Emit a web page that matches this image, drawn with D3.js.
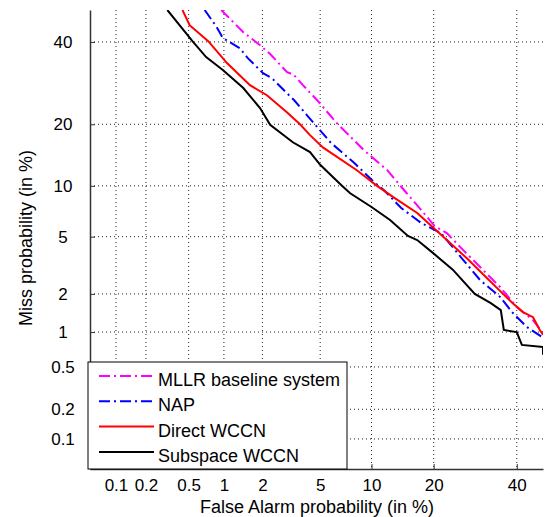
<!DOCTYPE html>
<html>
<head>
<meta charset="utf-8">
<script src="https://cdn.jsdelivr.net/npm/d3@7"></script>
<style>
  body { margin: 0; background: #fff; }
  text { font-family: "Liberation Sans", Arial, sans-serif; fill: #000; }
</style>
</head>
<body>
<svg id="chart" width="548" height="517"></svg>
<script>
// DET curves, values in % : [false alarm, miss]
const mllr = [[0.95,49],[1.43,42.7],[1.92,39.1],[2.28,36.7],[3.0,32.0],[3.36,31.2],[3.86,28.7],[4.77,25.2],[6.35,20.2],[9.1,15.2],[12.1,12.1],[15.1,9.1],[17.6,7.3],[20.2,5.83],[22.7,5.27],[26.3,4.1],[30.4,3.13],[35.5,2.25],[40,1.59],[44.5,1.25],[47.3,0.98]];
const nap = [[0.69,49],[0.87,44.2],[0.98,41.1],[1.34,38.3],[1.55,35.6],[2.02,31.7],[2.35,30.4],[3.0,26.8],[3.36,25.2],[4.1,21.9],[4.56,20.2],[5.83,16.5],[8.0,13.2],[10.3,10.5],[11.6,9.5],[14.2,7.5],[17.6,6.1],[21.5,5.27],[22.7,4.76],[25.8,3.67],[30.4,2.53],[35.5,1.9],[38.9,1.43],[42.8,1.1],[47,0.91]];
const directWccn = [[0.44,49],[0.51,44.7],[0.74,40.2],[1.06,34.3],[1.61,28.7],[2.16,26.3],[3.0,22.5],[3.69,20],[4.3,17.9],[5.2,15.7],[8.3,12.1],[10.7,10],[13.2,8.55],[16.9,7.0],[20,5.67],[27.2,3.6],[32.1,2.62],[36.3,2.0],[38.9,1.7],[41.7,1.45],[44.5,1.32],[46.4,1.04],[47.3,0.95]];
const subspaceWccn = [[0.32,49],[0.54,40.2],[0.71,35.9],[0.98,32.5],[1.43,28],[1.92,23.4],[2.28,19.9],[3.3,16.6],[4.3,14.9],[5.0,12.9],[6.8,10],[7.6,9.1],[10,7.6],[12.5,6.35],[15.3,5.05],[16.9,4.76],[19.9,3.9],[24,3.0],[29.1,2.0],[33.1,1.7],[35.7,1.5],[36.5,1.04],[40,1.0],[41.4,0.78],[47.3,0.75],[47.3,0.64]];

const xTicks = [0.1, 0.2, 0.5, 1, 2, 5, 10, 20, 40];
const yTicks = [0.1, 0.2, 0.5, 1, 2, 5, 10, 20, 40];
const xLim = [0.053, 47.3];
const yLim = [0.0475, 49];

const series = [
  { name: 'MLLR baseline system', data: mllr, color: '#ff00ff', dash: '11,4,2,4' },
  { name: 'NAP', data: nap, color: '#0000ff', dash: '11,4,2,4' },
  { name: 'Direct WCCN', data: directWccn, color: '#ff0000', dash: null },
  { name: 'Subspace WCCN', data: subspaceWccn, color: '#000000', dash: null }
];

// inverse normal cdf (Acklam)
function probit(p) {
  const a = [-39.69683028665376, 220.9460984245205, -275.9285104469687, 138.357751867269, -30.66479806614716, 2.506628274631];
  const b = [-54.47609879822406, 161.5858368580409, -155.6989798598866, 66.80131188771972, -13.28068155288572];
  const c = [-0.007784894002430293, -0.3223964580411365, -2.400758277161838, -2.549732539343734, 4.374664141464968, 2.938163982698783];
  const d = [0.007784695709041462, 0.3224671290700398, 2.445134137142996, 3.754408661907416];
  const pl = 0.02425;
  if (p < pl) {
    const q = Math.sqrt(-2 * Math.log(p));
    return (((((c[0]*q+c[1])*q+c[2])*q+c[3])*q+c[4])*q+c[5]) / ((((d[0]*q+d[1])*q+d[2])*q+d[3])*q+1);
  }
  if (p > 1 - pl) return -probit(1 - p);
  const q = p - 0.5, r = q * q;
  return (((((a[0]*r+a[1])*r+a[2])*r+a[3])*r+a[4])*r+a[5])*q / (((((b[0]*r+b[1])*r+b[2])*r+b[3])*r+b[4])*r+1);
}
const pz = v => probit(v / 100);

const box = { left: 90, right: 543, top: 10, bottom: 469 };
const svg = d3.select('#chart');

const x = d3.scaleLinear().domain(xLim.map(pz)).range([box.left, box.right]);
const y = d3.scaleLinear().domain(yLim.map(pz)).range([box.bottom, box.top]);

// dotted grid
svg.append('g')
  .selectAll('line')
  .data(xTicks)
  .join('line')
  .attr('x1', d => x(pz(d))).attr('x2', d => x(pz(d)))
  .attr('y1', box.top).attr('y2', box.bottom)
  .attr('stroke', '#222').attr('stroke-width', 1).attr('stroke-dasharray', '1,3');
svg.append('g')
  .selectAll('line')
  .data(yTicks)
  .join('line')
  .attr('y1', d => y(pz(d))).attr('y2', d => y(pz(d)))
  .attr('x1', box.left).attr('x2', box.right)
  .attr('stroke', '#222').attr('stroke-width', 1).attr('stroke-dasharray', '1,3');

svg.append('clipPath').attr('id', 'clip')
  .append('rect').attr('x', box.left).attr('y', box.top)
  .attr('width', box.right - box.left).attr('height', box.bottom - box.top);

const line = d3.line()
  .x(d => x(pz(d[0])))
  .y(d => y(pz(d[1])));

svg.append('g').attr('clip-path', 'url(#clip)')
  .selectAll('path')
  .data(series)
  .join('path')
  .attr('d', d => line(d.data))
  .attr('fill', 'none')
  .attr('stroke', d => d.color)
  .attr('stroke-width', 2)
  .attr('stroke-dasharray', d => d.dash);

// axes
const xAxis = d3.axisBottom(x).tickValues(xTicks.map(pz)).tickFormat((d, i) => xTicks[i]).tickSizeInner(-5).tickSizeOuter(0).tickPadding(10);
const yAxis = d3.axisLeft(y).tickValues(yTicks.map(pz)).tickFormat((d, i) => yTicks[i]).tickSizeInner(-5).tickSizeOuter(0);

const gx = svg.append('g').attr('transform', `translate(0,${box.bottom})`).call(xAxis);
const gy = svg.append('g').attr('transform', `translate(${box.left},0)`).call(yAxis);
[gx, gy].forEach(g => {
  g.select('.domain').attr('stroke', '#333').attr('stroke-width', 1.5);
  g.selectAll('.tick line').attr('stroke', '#333');
  g.selectAll('.tick text').attr('font-size', 17).attr('font-family', '"Liberation Sans", Arial, sans-serif').attr('fill', '#000');
});
gy.selectAll('.tick text').attr('text-anchor', 'middle').attr('x', -27);

svg.append('text')
  .attr('x', 317).attr('y', 513)
  .attr('text-anchor', 'middle')
  .attr('font-size', 18)
  .text('False Alarm probability (in %)');
svg.append('text')
  .attr('transform', 'translate(32,238) rotate(-90)')
  .attr('text-anchor', 'middle')
  .attr('font-size', 18)
  .text('Miss probability (in %)');

// legend
const legend = svg.append('g');
legend.append('rect')
  .attr('x', 88).attr('y', 362).attr('width', 259).attr('height', 107)
  .attr('fill', '#fff').attr('stroke', '#000').attr('stroke-width', 1);
const item = legend.selectAll('g.item')
  .data(series)
  .join('g')
  .attr('class', 'item')
  .attr('transform', (d, i) => `translate(0,${376 + i * 25.3})`);
item.append('line')
  .attr('x1', 99).attr('x2', 154)
  .attr('stroke', d => d.color).attr('stroke-width', 2)
  .attr('stroke-dasharray', d => d.dash);
item.append('text')
  .attr('x', 158).attr('y', 10)
  .attr('font-size', 18)
  .text(d => d.name);
</script>
</body>
</html>
